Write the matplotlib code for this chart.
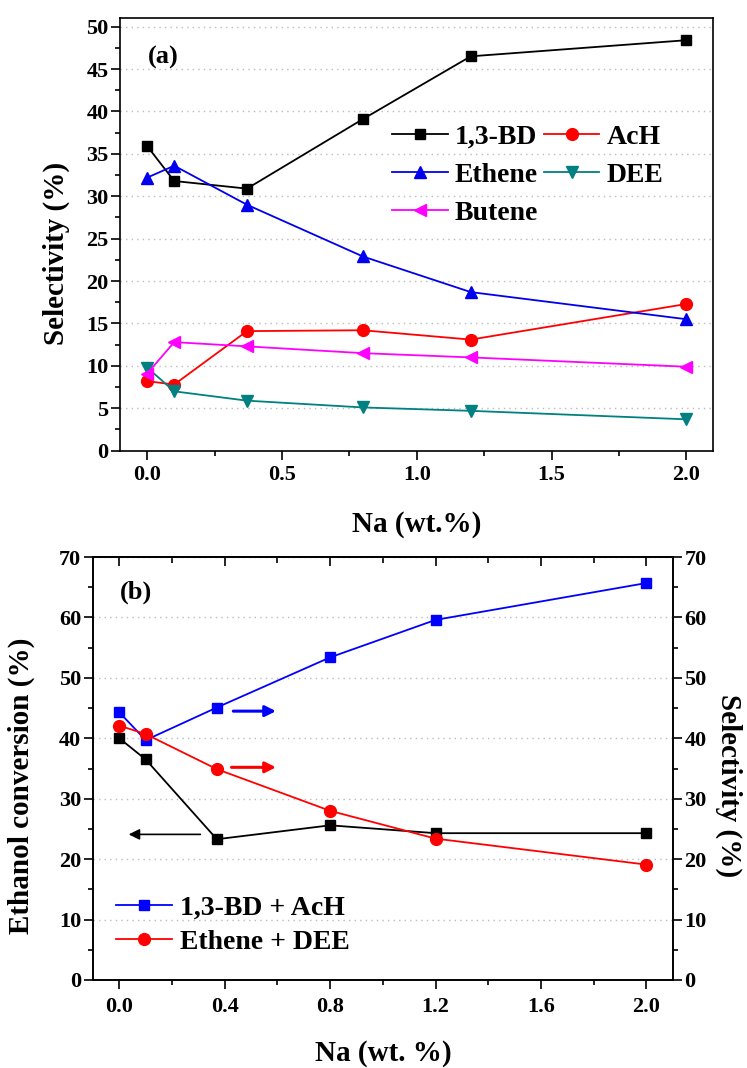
import numpy as np
import matplotlib.pyplot as plt
from matplotlib.ticker import MultipleLocator

plt.rcParams['font.family'] = ['Liberation Serif', 'DejaVu Serif']
plt.rcParams['font.weight'] = 'bold'
plt.rcParams['axes.labelweight'] = 'bold'

# (a) selectivity vs Na loading
na = [0, 0.1, 0.37, 0.8, 1.2, 2.0]
bd = [35.9, 31.8, 30.9, 39.1, 46.5, 48.4]
ach = [8.2, 7.8, 14.1, 14.2, 13.1, 17.3]
ethene = [32.2, 33.6, 29.0, 22.9, 18.7, 15.5]
dee = [9.8, 7.0, 5.9, 5.1, 4.7, 3.7]
butene = [9.1, 12.8, 12.3, 11.5, 11.0, 9.9]

# (b) conversion and grouped selectivity
conv = [40.0, 36.5, 23.3, 25.6, 24.3, 24.3]
bd_ach = [44.3, 39.7, 45.1, 53.4, 59.6, 65.7]
eth_dee = [42.1, 40.7, 34.9, 28.0, 23.4, 19.1]

fig = plt.figure(figsize=(7.47, 10.68), dpi=100)
ax1 = fig.add_axes([0.161, 0.578, 0.794, 0.405])
ax2 = fig.add_axes([0.1245, 0.0824, 0.776, 0.396])

lw = 1.3
ms = 7.5
tick_fs = 16
lab_fs = 21
leg_fs = 20


def style(ax):
    for s in ax.spines.values():
        s.set_linewidth(1.2)
    ax.tick_params(which='major', direction='out', length=6.5, width=1.2,
                   labelsize=tick_fs, pad=2)
    ax.tick_params(which='minor', direction='out', length=3.5, width=1.2)
    ax.yaxis.grid(True, which='major', linestyle=(0, (1, 3)), color='#bbbbbb', lw=1.0)
    ax.set_axisbelow(True)


# ---------- panel (a)
style(ax1)
h_bd, = ax1.plot(na, bd, '-s', color='black', lw=lw, ms=ms, label='1,3-BD')
h_ach, = ax1.plot(na, ach, '-o', color='#ff0000', lw=lw, ms=ms + 1, label='AcH')
h_eth, = ax1.plot(na, ethene, '-^', color='#0000ee', lw=lw, ms=ms + 1, label='Ethene')
h_dee, = ax1.plot(na, dee, '-v', color='#008080', lw=lw, ms=ms + 1, label='DEE')
h_but, = ax1.plot(na, butene, '-<', color='#ff00ff', lw=lw, ms=ms + 1, label='Butene')

ax1.set_xlim(-0.1, 2.1)
ax1.set_ylim(0, 51)
ax1.xaxis.set_major_locator(MultipleLocator(0.5))
ax1.xaxis.set_minor_locator(MultipleLocator(0.25))
ax1.yaxis.set_major_locator(MultipleLocator(5))
ax1.yaxis.set_minor_locator(MultipleLocator(2.5))
ax1.tick_params(axis='x', which='major', pad=4)
ax1.set_xlabel('Na (wt.%)', fontsize=lab_fs)
ax1.set_ylabel('Selectivity (%)', fontsize=lab_fs)
ax1.xaxis.set_label_coords(0.5, -0.139)
ax1.yaxis.set_label_coords(-0.084, 0.455)
ax1.text(0.047, 0.91, '(a)', transform=ax1.transAxes, fontsize=19,
         fontweight='bold', va='center')
ax1.legend(handles=[h_bd, h_eth, h_but, h_ach, h_dee], ncol=2,
           loc='upper left', bbox_to_anchor=(0.44, 0.78), frameon=False,
           fontsize=leg_fs, handlelength=2.0, handletextpad=0.25,
           columnspacing=0.2, labelspacing=0.45, borderaxespad=0)

# ---------- panel (b)
style(ax2)
ax2r = ax2.twinx()
for s in ax2r.spines.values():
    s.set_linewidth(1.2)
ax2r.tick_params(which='major', direction='out', length=6.5, width=1.2,
                 labelsize=tick_fs, pad=2)
ax2r.tick_params(which='minor', direction='out', length=3.5, width=1.2)

ax2.plot(na, conv, '-s', color='black', lw=lw, ms=ms)
ax2r.plot(na, bd_ach, '-s', color='#0000ff', lw=lw, ms=ms, label='1,3-BD + AcH')
ax2r.plot(na, eth_dee, '-o', color='#ff0000', lw=lw, ms=ms + 1, label='Ethene + DEE')

for a in (ax2, ax2r):
    a.set_xlim(-0.1, 2.1)
    a.set_ylim(0, 70)
    a.yaxis.set_major_locator(MultipleLocator(10))
    a.yaxis.set_minor_locator(MultipleLocator(5))
ax2.xaxis.set_major_locator(MultipleLocator(0.4))
ax2.xaxis.set_minor_locator(MultipleLocator(0.2))
ax2.tick_params(axis='x', which='major', pad=6)

# inward ticks along the top edge
top = ax2.secondary_xaxis('top')
top.xaxis.set_major_locator(MultipleLocator(0.4))
top.xaxis.set_minor_locator(MultipleLocator(0.2))
top.tick_params(which='major', direction='in', length=6.5, width=1.2, labeltop=False)
top.tick_params(which='minor', direction='in', length=4, width=1.2)
top.spines['top'].set_linewidth(1.2)

ax2.set_xlabel('Na (wt. %)', fontsize=lab_fs)
ax2.set_ylabel('Ethanol conversion (%)', fontsize=lab_fs)
ax2r.set_ylabel('Selectivity (%)', fontsize=lab_fs, rotation=270)
ax2.xaxis.set_label_coords(0.5, -0.142)
ax2.yaxis.set_label_coords(-0.1, 0.459)
ax2r.yaxis.set_label_coords(1.121, 0.459)
ax2.text(0.047, 0.917, '(b)', transform=ax2.transAxes, fontsize=19,
         fontweight='bold', va='center')

# arrows pointing to the relevant axis
ax2.annotate('', xy=(0.605, 44.5), xytext=(0.422, 44.5),
             arrowprops=dict(arrowstyle='-|>', color='#0000ff', lw=2.2, mutation_scale=16))
ax2.annotate('', xy=(0.605, 35.2), xytext=(0.415, 35.2),
             arrowprops=dict(arrowstyle='-|>', color='#ff0000', lw=2.2, mutation_scale=16))
ax2.annotate('', xy=(0.025, 24.1), xytext=(0.318, 24.1),
             arrowprops=dict(arrowstyle='-|>', color='black', lw=1.2, mutation_scale=16))

ax2r.legend(loc='lower left', bbox_to_anchor=(0.021, 0.0335), frameon=False,
            fontsize=leg_fs, handlelength=2.0, handletextpad=0.3,
            labelspacing=0.3, borderaxespad=0)

fig.savefig('out.png', dpi=100)
